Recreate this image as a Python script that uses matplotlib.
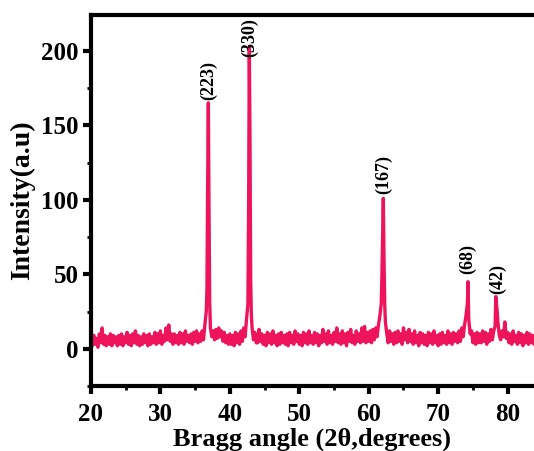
import numpy as np
import matplotlib.pyplot as plt
from matplotlib.ticker import MultipleLocator

plt.rcParams['font.family'] = ['Liberation Serif', 'DejaVu Serif']
plt.rcParams['font.weight'] = 'bold'

# scan grid, 0.2 degree steps from 20 to 84
two_theta = np.round(np.arange(20.0, 84.01, 0.2), 1)
intensity = [
    8, 2, 9, 3, 7, 1, 10, 4, 14, 3, 9, 2, 8, 3, 10, 2, 9, 4, 8, 2,
    9, 3, 10, 2, 8, 4, 11, 3, 9, 2, 10, 4, 12, 3, 9, 2, 8, 3, 10, 4,
    9, 2, 10, 3, 8, 4, 11, 3, 10, 4, 12, 3, 9, 5, 14, 6, 16, 5, 10, 3,
    10, 4, 9, 3, 11, 4, 10, 3, 12, 5, 9, 4, 10, 3, 11, 5, 12, 4, 10, 5,
    12, 6, 16, 25, 110, 90, 14, 8, 12, 6, 13, 7, 14, 8, 12, 5, 11, 4, 9, 3,
    10, 3, 9, 2, 11, 4, 10, 3, 12, 5, 14, 8, 20, 30, 203, 45, 14, 6, 11, 4,
    4, 13, 5, 10, 3, 9, 2, 11, 4, 10, 3, 12, 4, 9, 2, 10, 3, 11, 4, 9,
    3, 10, 2, 11, 4, 9, 3, 12, 5, 10, 3, 9, 2, 11, 4, 10, 3, 12, 4, 9,
    3, 11, 4, 10, 2, 9, 4, 13, 5, 10, 3, 12, 4, 9, 3, 11, 5, 14, 4, 10,
    3, 12, 4, 10, 2, 11, 5, 13, 4, 9, 3, 12, 5, 10, 4, 14, 5, 15, 4, 11,
    5, 12, 4, 13, 6, 14, 8, 16, 22, 30, 75, 60, 18, 10, 4, 12, 5, 10, 3, 11,
    4, 12, 5, 10, 3, 14, 6, 11, 4, 13, 5, 10, 3, 12, 4, 9, 2, 11, 4, 10,
    3, 9, 2, 11, 4, 10, 3, 12, 4, 9, 2, 10, 3, 11, 4, 9, 3, 12, 4, 10,
    3, 11, 5, 10, 4, 12, 5, 14, 8, 16, 22, 30, 20, 10, 12, 4, 10, 3, 11, 4,
    10, 4, 12, 5, 11, 3, 10, 5, 13, 6, 12, 15, 30, 18, 9, 6, 12, 8, 18, 7,
    11, 4, 10, 3, 12, 5, 9, 3, 11, 4, 10, 2, 9, 4, 11, 3, 10, 4, 9, 3,
    8,
]

# extra points read around the peak tops
peak_x = [36.7, 36.9, 37.1, 42.7, 42.9, 43.1, 61.9, 62.1, 62.3, 74.3, 78.3, 78.5]
peak_y = [40, 165, 30, 95, 140, 22, 50, 101, 30, 45, 35, 25]

labels = ['(223)', '(330)', '(167)', '(68)', '(42)']
label_x = [36.9, 42.9, 62.1, 74.3, 78.6]
label_y = [167, 196, 104, 50, 37]

x = np.concatenate([two_theta, peak_x])
y = np.concatenate([intensity, peak_y])
order = np.argsort(x)
x, y = x[order], y[order]

fig = plt.figure(figsize=(5.34, 4.51), dpi=100)
ax = fig.add_axes([0.1704, 0.1441, 0.8296, 0.8226])

ax.plot(x, y, color='#ED145B', lw=2.4)

for lab, lx, ly in zip(labels, label_x, label_y):
    ax.text(lx, ly, lab, rotation=90, ha='center', va='bottom',
            fontsize=13, fontweight='bold')

ax.set_xlim(20, 83.8)
ax.set_ylim(-25, 224)
ax.xaxis.set_major_locator(MultipleLocator(10))
ax.xaxis.set_minor_locator(MultipleLocator(5))
ax.yaxis.set_major_locator(MultipleLocator(50))
ax.yaxis.set_minor_locator(MultipleLocator(25))

ax.spines['right'].set_visible(False)
for s in ['left', 'bottom', 'top']:
    ax.spines[s].set_linewidth(3)
ax.tick_params(which='major', direction='out', length=6, width=3, labelsize=18)
ax.tick_params(which='minor', direction='out', length=3, width=2)
ax.tick_params(axis='x', pad=6)
ax.tick_params(axis='y', pad=3)

ax.set_xlabel('Bragg angle (2θ,degrees)', fontsize=19, fontweight='bold', labelpad=1.5)
ax.set_ylabel('Intensity(a.u)', fontsize=20, fontweight='bold', labelpad=4)

fig.savefig('out.png', dpi=100)
